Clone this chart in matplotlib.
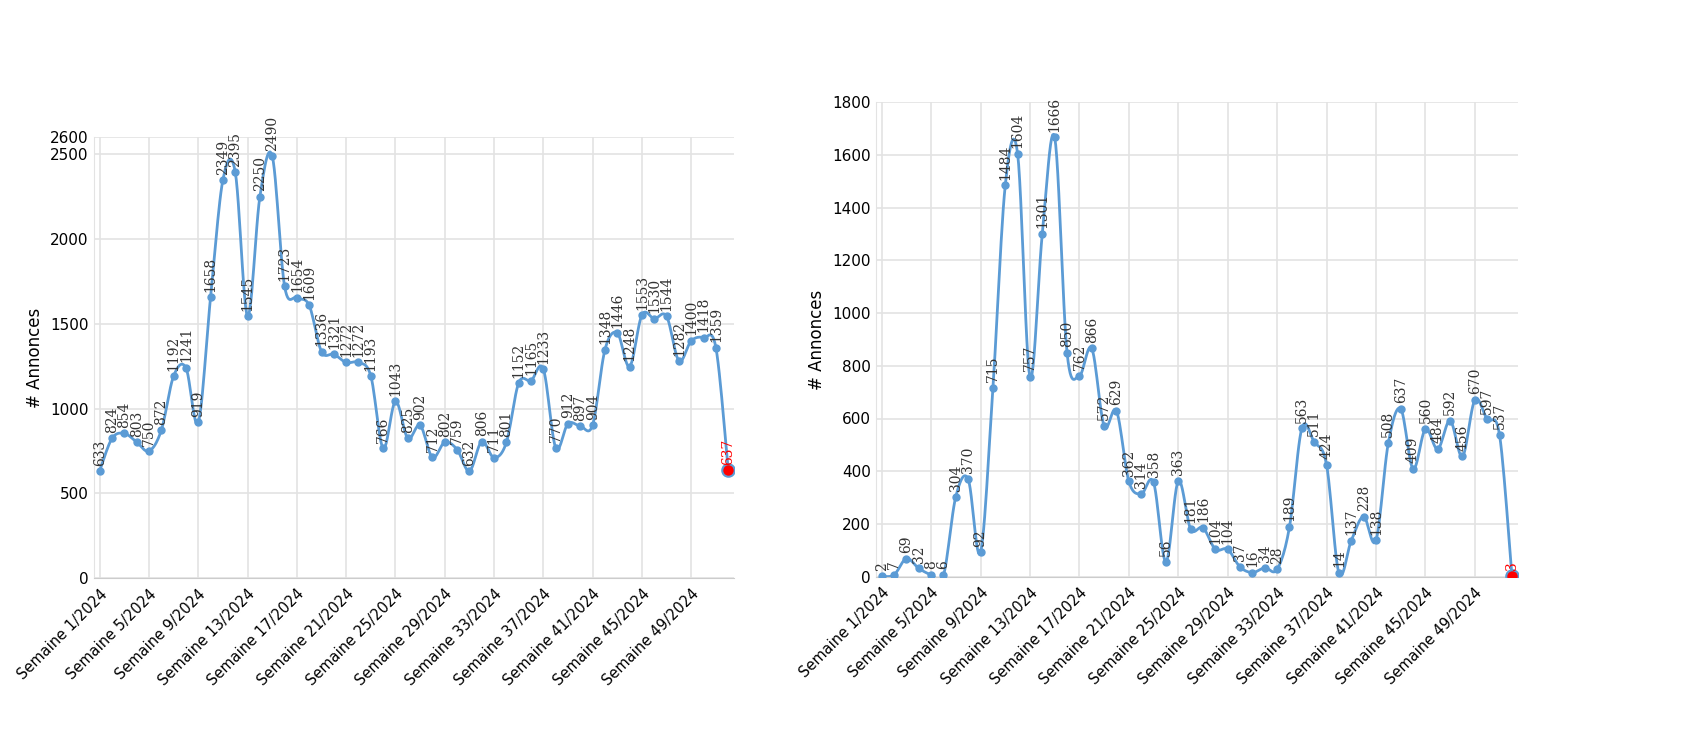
import numpy as np
import matplotlib.pyplot as plt

weeks = [f'Semaine {i}/2024' for i in range(1, 53)]
left_vals = [633, 824, 854, 803, 750, 872, 1192, 1241, 919, 1658,
             2349, 2395, 1545, 2250, 2490, 1723, 1654, 1609, 1336, 1321,
             1272, 1272, 1193, 766, 1043, 825, 902, 712, 802, 759,
             632, 806, 711, 801, 1152, 1165, 1233, 770, 912, 897,
             904, 1348, 1446, 1248, 1553, 1530, 1544, 1282, 1400, 1418,
             1359, 637]
right_vals = [2, 7, 69, 32, 8, 6, 304, 370, 92, 715,
              1484, 1604, 757, 1301, 1666, 850, 762, 866, 572, 629,
              362, 314, 358, 56, 363, 181, 186, 104, 104, 37,
              16, 34, 28, 189, 563, 511, 424, 14, 137, 228,
              138, 508, 637, 409, 560, 484, 592, 456, 670, 597,
              537, 3]

LINE = '#5b9bd5'


def smooth(x, y, n=12):
    # Catmull-Rom curve through the points (rendering only)
    x = np.asarray(x, float); y = np.asarray(y, float)
    px = np.concatenate([[x[0]], x, [x[-1]]])
    py = np.concatenate([[y[0]], y, [y[-1]]])
    xs, ys = [], []
    t = np.linspace(0, 1, n, endpoint=False)
    for i in range(1, len(px) - 2):
        for p, out in ((px, xs), (py, ys)):
            p0, p1, p2, p3 = p[i - 1], p[i], p[i + 1], p[i + 2]
            out.extend(0.5 * (2 * p1 + (-p0 + p2) * t
                              + (2 * p0 - 5 * p1 + 4 * p2 - p3) * t ** 2
                              + (-p0 + 3 * p1 - 3 * p2 + p3) * t ** 3))
    xs.append(x[-1]); ys.append(y[-1])
    return xs, ys


def draw(ax, vals, ymax, yticks):
    x = np.arange(len(vals))
    sx, sy = smooth(x, vals)
    ax.plot(sx, sy, color=LINE, lw=2, zorder=2)
    ax.plot(x[:-1], vals[:-1], 'o', color=LINE, ms=5, zorder=3)
    ax.plot(x[-1], vals[-1], 'o', color='red', ms=9, mec=LINE, mew=1.5, zorder=4)
    off = ymax * 0.012
    for xi, v in zip(x, vals):
        ax.text(xi, v + off, str(v), rotation=90, ha='center', va='bottom',
                fontsize=10, family='DejaVu Serif',
                color='red' if xi == x[-1] else '#333333', zorder=5)
    ax.set_xlim(-0.5, len(vals) - 0.5)
    ax.set_ylim(0, ymax)
    ax.set_yticks(yticks)
    ax.set_xticks(x[::4])
    ax.set_xticklabels(weeks[::4], rotation=45, ha='right', fontsize=10.5,
                       rotation_mode='anchor')
    ax.tick_params(axis='y', labelsize=11, length=0)
    ax.tick_params(axis='x', length=0, pad=6)
    ax.grid(True, color='#e3e3e3', lw=1.2)
    ax.set_axisbelow(True)
    for s in ('top', 'right'):
        ax.spines[s].set_visible(False)
    ax.spines['left'].set_color('#e3e3e3')
    ax.spines['bottom'].set_color('#cccccc')
    ax.set_ylabel('# Annonces', fontsize=12)


fig = plt.figure(figsize=(17, 7.5), dpi=100)
ax1 = fig.add_axes([0.055, 0.229, 0.377, 0.588])
ax2 = fig.add_axes([0.515, 0.231, 0.378, 0.633])
draw(ax1, left_vals, 2600, [0, 500, 1000, 1500, 2000, 2500, 2600])
draw(ax2, right_vals, 1800, list(range(0, 1801, 200)))
fig.savefig('out.png', dpi=100)
